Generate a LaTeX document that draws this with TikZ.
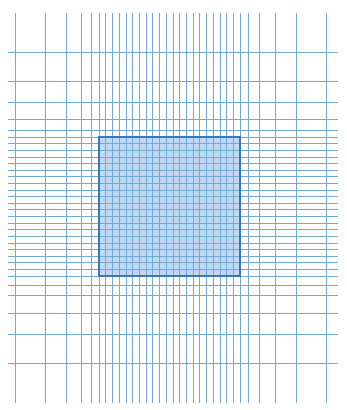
\documentclass[tikz,border=0pt]{standalone}
\definecolor{gridblue}{RGB}{115,170,212}
\definecolor{cellfill}{RGB}{192,217,243}
\definecolor{celledge}{RGB}{58,118,188}

\begin{document}
\begin{tikzpicture}[x=1pt, y=-1pt,
  gridline/.style={draw=gridblue, line width=0.7pt},
  blockfill/.style={fill=cellfill},
  blockedge/.style={draw=celledge, line width=2.8pt}
]
\useasboundingbox (0,0) rectangle (346,410);
% refined block, fill under the lines
\fill[blockfill] (99,137) rectangle (240,276);
% coarse lines, growing outwards
\foreach \x in {15,45,66,81,91,248,259,275,296,326}
  \draw[gridline] (\x,13) -- (\x,403);
\foreach \y in {52,81,102,119,130,285,295,313,334,363}
  \draw[gridline] (8,\y) -- (338,\y);
% fine lines through the block
\foreach \i in {0,...,21} {
  \draw[gridline] ({99+\i*141/21},13) -- ({99+\i*141/21},403);
  \draw[gridline] (8,{137+\i*139/21}) -- (338,{137+\i*139/21});
}
% block outline
\draw[blockedge] (99,137) rectangle (240,276);
\end{tikzpicture}
\end{document}
